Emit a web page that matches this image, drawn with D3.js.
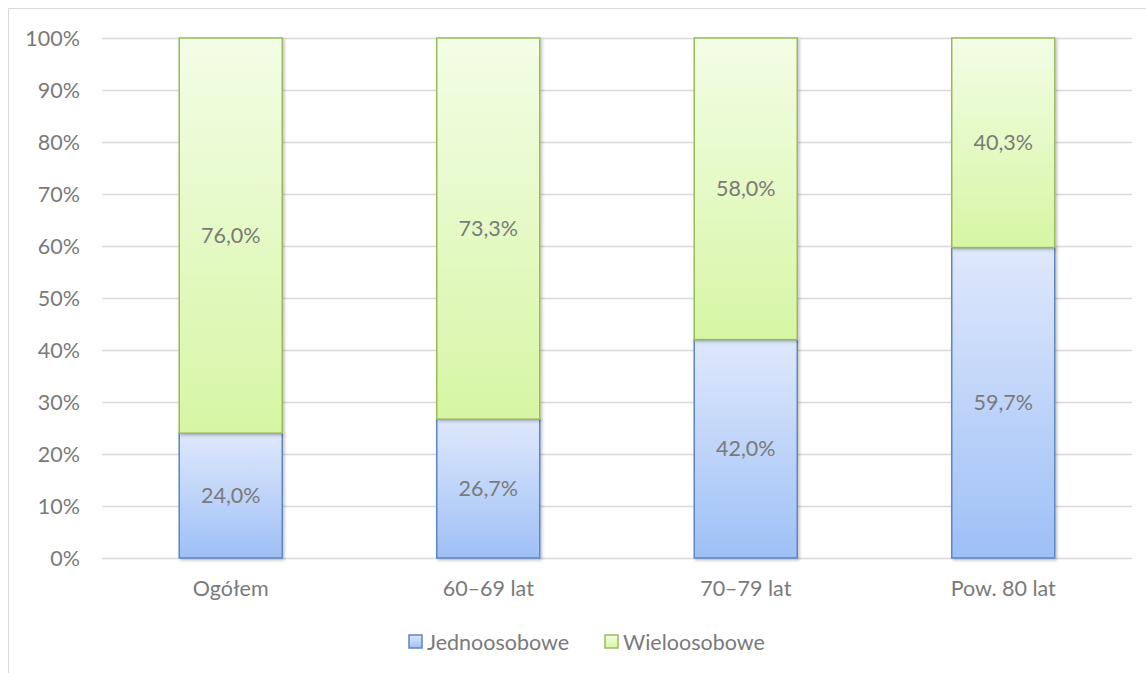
<!DOCTYPE html>
<html><head><meta charset="utf-8">
<script src="https://cdn.jsdelivr.net/npm/d3@7"></script>
<style>body{margin:0;background:#fff;} text{font-family:Lato,"Open Sans",sans-serif;}</style>
</head><body><svg id="c" width="1146" height="673"></svg>
<script>
const categories = ["Ogółem","60–69 lat","70–79 lat","Pow. 80 lat"];
const jednoosobowe = [24.0, 26.7, 42.0, 59.7];
const wieloosobowe = [76.0, 73.3, 58.0, 40.3];
const seriesNames = ["Jednoosobowe","Wieloosobowe"];
const yTicks = [0,10,20,30,40,50,60,70,80,90,100];

(function(){
const FS = 21.5, TC = "#7a7a7a";
const svg = d3.select("#c");
const defs = svg.append("defs");
function grad(id, c1, c2){
  const g = defs.append("linearGradient").attr("id",id).attr("x1",0).attr("y1",0).attr("x2",0).attr("y2",1);
  g.append("stop").attr("offset","0%").attr("stop-color",c1);
  g.append("stop").attr("offset","100%").attr("stop-color",c2);
}
grad("gb","#dfe8fc","#9ec0f6");
grad("gg","#f3fde6","#d6f6a4");
const f = defs.append("filter").attr("id","sh").attr("x","-10%").attr("y","-10%").attr("width","130%").attr("height","130%");
f.append("feDropShadow").attr("dx",1.5).attr("dy",1.5).attr("stdDeviation",1.5).attr("flood-color","#000").attr("flood-opacity",0.25);

svg.append("rect").attr("x",8.5).attr("y",8.5).attr("width",1150).attr("height",680).attr("fill","#fff").attr("stroke","#d9d9d9").attr("stroke-width",1);

const pL=102, pR=1132, pT=38, pB=558;
const x = d3.scaleBand().domain(categories).range([pL,pR]).paddingInner(0.6).paddingOuter(0.3);
const y = d3.scaleLinear().domain([0,100]).range([pB,pT]);

const g = svg.append("g");
g.selectAll("line.grid").data(yTicks).join("line")
  .attr("x1",pL).attr("x2",pR).attr("y1",d=>y(d)+0.5).attr("y2",d=>y(d)+0.5)
  .attr("stroke","#d9d9d9").attr("stroke-width",1.3);
g.selectAll("text.yl").data(yTicks).join("text")
  .attr("x",80).attr("y",d=>y(d)).attr("dy","0.35em").attr("text-anchor","end")
  .attr("font-size",FS).attr("fill",TC).text(d=>d+"%");

const fmt = v => v.toFixed(1).replace(".",",")+"%";
const stacks = categories.map((c,i)=>({c, j:jednoosobowe[i], w:wieloosobowe[i]}));
const bars = g.selectAll("g.bar").data(stacks).join("g");
bars.append("rect").attr("x",d=>x(d.c)).attr("width",x.bandwidth())
  .attr("y",d=>y(d.j)).attr("height",d=>y(0)-y(d.j))
  .attr("fill","url(#gb)").attr("stroke","#5b86c4").attr("stroke-width",1.5).attr("filter","url(#sh)");
bars.append("rect").attr("x",d=>x(d.c)).attr("width",x.bandwidth())
  .attr("y",d=>y(d.j+d.w)).attr("height",d=>y(d.j)-y(d.j+d.w))
  .attr("fill","url(#gg)").attr("stroke","#9bbb59").attr("stroke-width",1.5).attr("filter","url(#sh)");
bars.append("text").attr("x",d=>x(d.c)+x.bandwidth()/2).attr("y",d=>y(d.j/2)).attr("dy","0.35em")
  .attr("text-anchor","middle").attr("font-size",FS).attr("fill",TC).text(d=>fmt(d.j));
bars.append("text").attr("x",d=>x(d.c)+x.bandwidth()/2).attr("y",d=>y(d.j+d.w/2)).attr("dy","0.35em")
  .attr("text-anchor","middle").attr("font-size",FS).attr("fill",TC).text(d=>fmt(d.w));

g.selectAll("text.xl").data(categories).join("text")
  .attr("x",d=>x(d)+x.bandwidth()/2).attr("y",588).attr("dy","0.35em")
  .attr("text-anchor","middle").attr("font-size",FS).attr("fill",TC).text(d=>d);

const legend = [{n:seriesNames[0],f:"url(#gb)",s:"#5b86c4",x:409},{n:seriesNames[1],f:"url(#gg)",s:"#9bbb59",x:605}];
const lg = svg.selectAll("g.lg").data(legend).join("g");
lg.append("rect").attr("x",d=>d.x).attr("y",635).attr("width",13).attr("height",13)
  .attr("fill",d=>d.f).attr("stroke",d=>d.s).attr("stroke-width",1.5);
lg.append("text").attr("x",d=>d.x+18).attr("y",642).attr("dy","0.35em").attr("font-size",FS).attr("fill",TC).text(d=>d.n);
})();
</script></body></html>
